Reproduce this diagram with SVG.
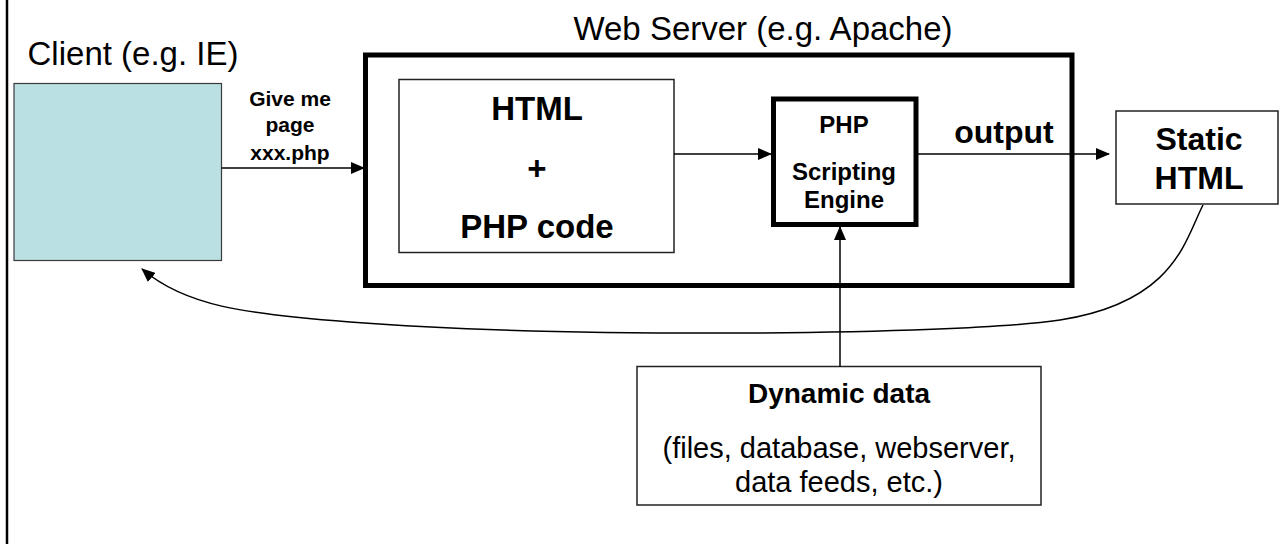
<svg xmlns="http://www.w3.org/2000/svg" width="1280" height="544" viewBox="0 0 1280 544">
<style>
text{font-family:"Liberation Sans",Arial,sans-serif;fill:#000;text-anchor:middle}
.b{font-weight:bold}
.box{fill:#fff;stroke:#222;stroke-width:1.5}
.thick{fill:#fff;stroke:#000;stroke-width:5}
.line{fill:none;stroke:#000;stroke-width:1.5}
</style>
<defs>
<marker id="arr" markerUnits="userSpaceOnUse" markerWidth="14" markerHeight="12" viewBox="0 0 14 12" refX="13" refY="6" orient="auto">
<path d="M0,0 L14,6 L0,12 z" fill="#000"/>
</marker>
</defs>
<rect width="1280" height="544" fill="#fff"/>
<line x1="7" y1="0" x2="7" y2="544" stroke="#000" stroke-width="2.5"/>
<g id="client">
<text x="133" y="65" font-size="33">Client (e.g. IE)</text>
<rect x="14" y="83.5" width="207.5" height="177" fill="#bbe0e3" stroke="#3a3a3a" stroke-width="1.2"/>
</g>
<g id="webserver">
<text x="763" y="40" font-size="33">Web Server (e.g. Apache)</text>
<rect x="365.5" y="55" width="706.5" height="230.5" class="thick"/>
</g>
<g id="htmlphp">
<rect x="399" y="79.5" width="275" height="173" class="box"/>
<text x="537" y="120" font-size="33" class="b">HTML</text>
<text x="537" y="180" font-size="33" class="b">+</text>
<text x="537" y="238" font-size="33" class="b">PHP code</text>
</g>
<g id="engine">
<rect x="773.5" y="99" width="142.5" height="125.5" class="thick"/>
<text x="844" y="133" font-size="24" class="b">PHP</text>
<text x="844" y="180" font-size="24" class="b">Scripting</text>
<text x="844" y="208" font-size="24" class="b">Engine</text>
</g>
<g id="static">
<rect x="1116" y="111" width="162" height="93" class="box"/>
<text x="1199" y="150" font-size="32" class="b">Static</text>
<text x="1199" y="189" font-size="32" class="b">HTML</text>
</g>
<g id="dynamic">
<rect x="637" y="366.5" width="404" height="138.5" class="box"/>
<text x="839" y="403" font-size="28" class="b">Dynamic data</text>
<text x="839" y="458" font-size="29">(files, database, webserver,</text>
<text x="839" y="492" font-size="29">data feeds, etc.)</text>
</g>
<g id="connectors">
<line x1="221.5" y1="168" x2="364" y2="168" class="line" marker-end="url(#arr)"/>
<text x="290" y="106" font-size="21" class="b">Give me</text>
<text x="290" y="132" font-size="21" class="b">page</text>
<text x="290" y="160" font-size="21" class="b">xxx.php</text>
<line x1="674" y1="154" x2="771" y2="154" class="line" marker-end="url(#arr)"/>
<line x1="918" y1="154" x2="1109" y2="154" class="line" marker-end="url(#arr)"/>
<text x="1004" y="143" font-size="32" class="b">output</text>
<line x1="840" y1="366.5" x2="840" y2="227" class="line" marker-end="url(#arr)"/>
<path d="M1203,205 C1185,240 1175,302 1060,320 C950,336 560,338 350,322 C245,314 185,306 142,269" class="line" marker-end="url(#arr)"/>
</g>
</svg>
